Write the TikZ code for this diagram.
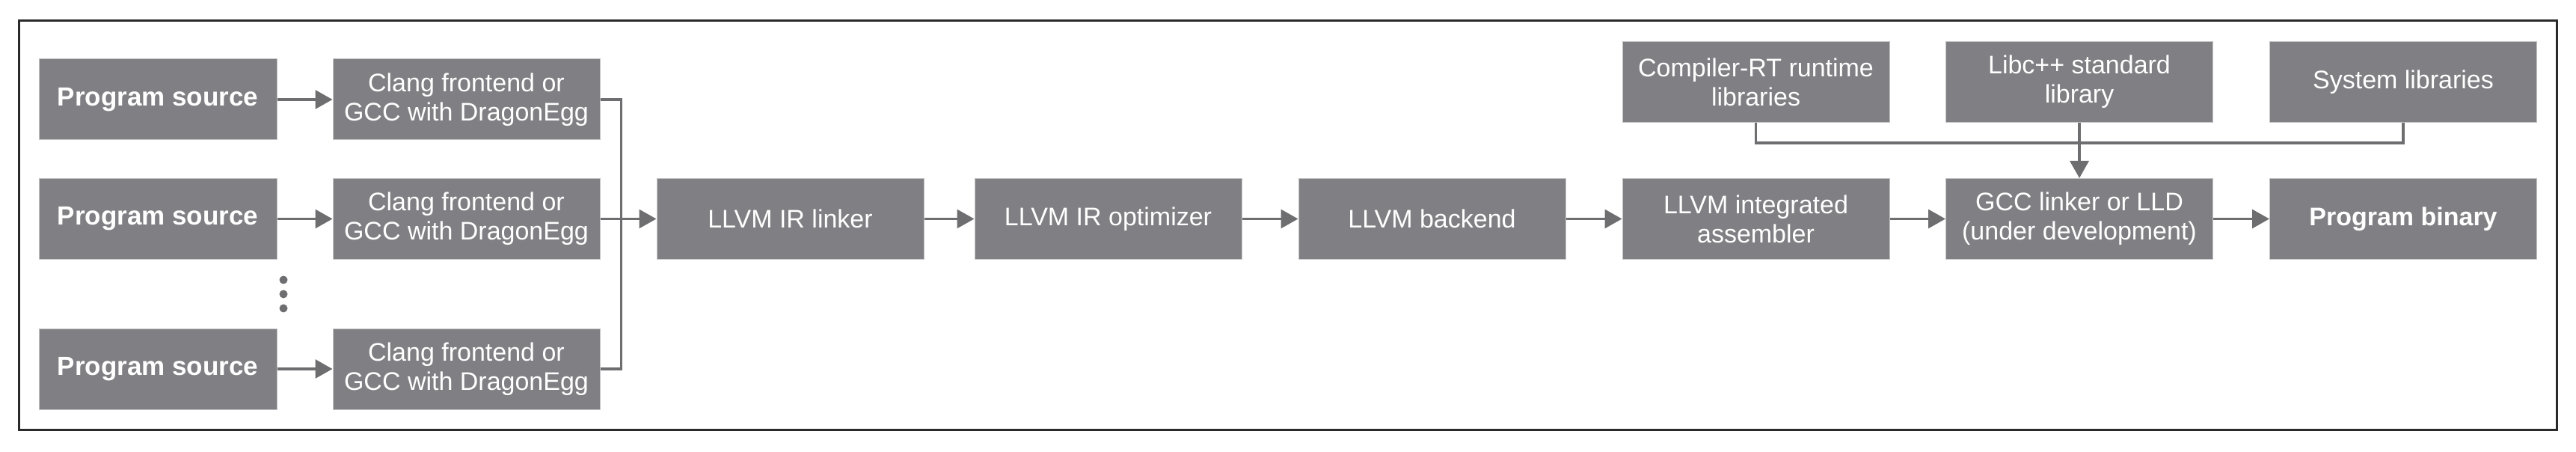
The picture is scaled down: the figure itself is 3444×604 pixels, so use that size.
\documentclass[tikz,border=0pt]{standalone}
\usepackage{fontspec}
\setmainfont{Liberation Sans}
\usetikzlibrary{arrows.meta}
\definecolor{boxgray}{HTML}{808084}
\definecolor{edgegray}{HTML}{C4C4C6}
\definecolor{linegray}{HTML}{6E6E70}
\definecolor{framegray}{HTML}{2A2A2A}
\tikzset{
  box/.style={rectangle, fill=boxgray, draw=edgegray, line width=1pt, text=white,
    minimum height=108pt, inner sep=0pt, align=center,
    font=\fontsize{34}{39}\selectfont},
  srcbox/.style={box, minimum width=318pt, font=\fontsize{35}{39}\selectfont\bfseries},
  stdbox/.style={box, minimum width=357pt},
  conn/.style={draw=linegray, line width=3.2pt},
  arr/.style={conn, -{Triangle[length=23pt,width=25pt]}},
}
\begin{document}
\begin{tikzpicture}[x=1pt,y=-1pt]
\useasboundingbox (0,0) rectangle (3444,604);
\draw[framegray, line width=3pt] (25,28) rectangle (3418,574);
% program sources
\node[srcbox] (s1) at (211,133) {Program source};
\node[srcbox] (s2) at (211,292.5) {Program source};
\node[srcbox] (s3) at (211,493) {Program source};
% frontends
\node[stdbox] (f1) at (623.5,133) {Clang frontend or\\GCC with DragonEgg};
\node[stdbox] (f2) at (623.5,292.5) {Clang frontend or\\GCC with DragonEgg};
\node[stdbox] (f3) at (623.5,493) {Clang frontend or\\GCC with DragonEgg};
% dots
\foreach \yy [count=\i] in {374,393,412} \fill[linegray] (379,\yy) circle (5.5pt) coordinate (d\i);
% pipeline
\node[stdbox] (lk) at (1056.5,292.5) {LLVM IR linker};
\node[stdbox] (op) at (1481.5,292.5) {LLVM IR optimizer};
\node[stdbox] (be) at (1914.5,292.5) {LLVM backend};
\node[stdbox] (as) at (2347.5,292.5) {LLVM integrated\\assembler};
\node[stdbox] (ld) at (2780,292.5) {GCC linker or LLD\\(under development)};
\node[stdbox] (bin) at (3213,292.5) {\bfseries Program binary};
% libraries
\node[stdbox] (rt) at (2347.5,109.5) {Compiler-RT runtime\\libraries};
\node[stdbox] (cxx) at (2780,109.5) {Libc++ standard\\library};
\node[stdbox] (sys) at (3213,109.5) {System libraries};
% arrows source -> frontend
\draw[arr] (s1) -- (f1);
\draw[arr] (s2) -- (f2);
\draw[arr] (s3) -- (f3);
% bus to linker
\coordinate (bx1) at (830.5,133);
\coordinate (bx3) at (830.5,493);
\draw[conn, line join=miter] (f1.east) -- (bx1) -- (bx3) -- (f3.east);
\draw[arr] (f2) -- (lk);
\draw[arr] (lk) -- (op);
\draw[arr] (op) -- (be);
\draw[arr] (be) -- (as);
\draw[arr] (as) -- (ld);
\draw[arr] (ld) -- (bin);
% library bus
\coordinate (lb1) at (2347.5,191);
\coordinate (lb3) at (3213,191);
\draw[conn, line join=miter] (rt.south) -- (lb1) -- (lb3) -- (sys.south);
\draw[arr] (cxx) -- (ld);
\end{tikzpicture}
\end{document}
